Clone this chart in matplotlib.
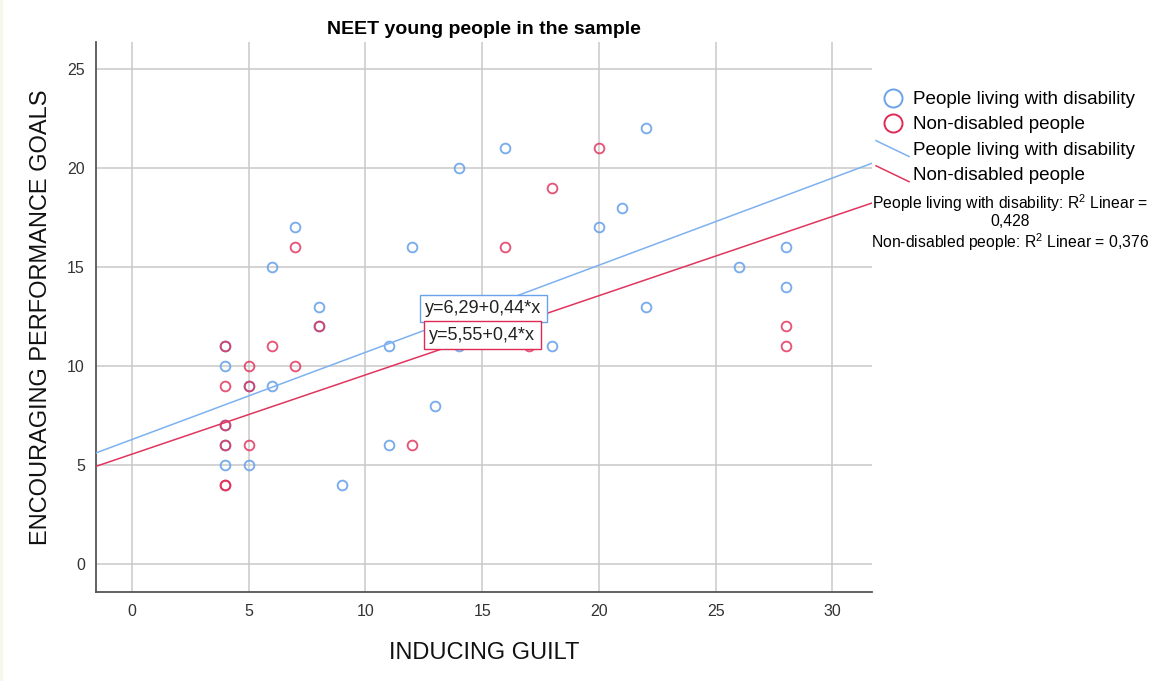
import numpy as np
import matplotlib
matplotlib.use("Agg")
import matplotlib.pyplot as plt
from matplotlib.lines import Line2D
from matplotlib.legend_handler import HandlerBase
from matplotlib.patches import Rectangle

plt.rcParams["font.family"] = ["Liberation Sans", "DejaVu Sans"]
plt.rcParams["mathtext.fontset"] = "custom"
plt.rcParams["mathtext.rm"] = "Liberation Sans"
plt.rcParams["mathtext.it"] = "Liberation Sans:italic"

# Scores: inducing guilt (x) vs encouraging performance goals (y)
disab_x = [4, 4, 4, 4, 4, 5, 5, 6, 6, 7, 8, 8, 9, 11, 11, 12, 13, 14, 14, 16, 18, 20, 21, 22, 22, 26, 28, 28]
disab_y = [10, 11, 7, 6, 5, 9, 5, 9, 15, 17, 13, 12, 4, 11, 6, 16, 8, 20, 11, 21, 11, 17, 18, 22, 13, 15, 16, 14]

nondis_x = [4, 4, 4, 4, 4, 4, 5, 5, 5, 6, 7, 7, 8, 12, 16, 17, 18, 20, 28, 28]
nondis_y = [11, 9, 7, 6, 4, 4, 10, 9, 6, 11, 10, 16, 12, 6, 16, 11, 19, 21, 12, 11]

# Linear fit coefficients (intercept, slope) and R squared
disab_fit = [6.29, 0.44]
nondis_fit = [5.55, 0.40]
r2_values = ["0,428", "0,376"]

group_labels = ["People living with disability", "Non-disabled people"]
x_ticks = [0, 5, 10, 15, 20, 25, 30]
y_ticks = [0, 5, 10, 15, 20, 25]

BLUE = "#6aa3eb"
RED = "#e02a55"
BLUE_LINE = "#7db1f0"
RED_LINE = "#e0355c"

W, H = 1163, 681
fig = plt.figure(figsize=(W / 100, H / 100), dpi=100)
fig.patch.set_facecolor("white")
fig.add_artist(Rectangle((0, 0), 3 / W, 1, transform=fig.transFigure,
                         facecolor="#f6f6ea", edgecolor="none"))

ax = fig.add_axes([96 / W, 1 - 592 / H, (872 - 96) / W, (592 - 42) / H])
ax.set_xlim(-1.54, 31.7)
ax.set_ylim(-1.41, 26.36)

ax.set_xticks(x_ticks)
ax.set_yticks(y_ticks)
ax.tick_params(length=0, labelsize=11.5, labelcolor="#333333")
ax.tick_params(axis="y", pad=8)
ax.tick_params(axis="x", pad=9)
ax.grid(True, color="#c9c9c9", lw=1.1)
ax.set_axisbelow(True)
for s in ["top", "right"]:
    ax.spines[s].set_visible(False)
for s in ["left", "bottom"]:
    ax.spines[s].set_color("#555555")
    ax.spines[s].set_linewidth(1.3)

ms = 7.0
mew = 1.35
ax.plot(disab_x, disab_y, "o", ls="none", mfc="none", mec=BLUE, ms=ms, mew=mew, alpha=0.9, zorder=3)
ax.plot(nondis_x, nondis_y, "o", ls="none", mfc="none", mec=RED, ms=ms, mew=mew, alpha=0.8, zorder=4)

xs = np.array(ax.get_xlim())
ax.plot(xs, disab_fit[0] + disab_fit[1] * xs, color=BLUE_LINE, lw=1.1, zorder=5)
ax.plot(xs, nondis_fit[0] + nondis_fit[1] * xs, color=RED_LINE, lw=1.1, zorder=5)


def fmt(v, nd):
    s = f"{v:.{nd}f}".rstrip("0").rstrip(".")
    return s.replace(".", ",")


eq_blue = f"y={fmt(disab_fit[0], 2)}+{fmt(disab_fit[1], 2)}*x"
eq_red = f"y={fmt(nondis_fit[0], 2)}+{fmt(nondis_fit[1], 2)}*x"
ax.text(15.04, 12.9, eq_blue, ha="center", va="center", fontsize=13, color="#222222", zorder=6,
        bbox=dict(boxstyle="square,pad=0.3", fc="white", ec=BLUE, lw=1.0))
ax.text(15.0, 11.55, eq_red, ha="center", va="center", fontsize=13, color="#222222", zorder=7,
        bbox=dict(boxstyle="square,pad=0.3", fc="white", ec=RED, lw=1.0))

ax.set_title("NEET young people in the sample", fontsize=14, fontweight="bold", pad=6)
ax.set_xlabel("INDUCING GUILT", fontsize=17, labelpad=16, color="#111111")
ax.set_ylabel("ENCOURAGING PERFORMANCE GOALS", fontsize=17, labelpad=11, color="#111111")


class DiagonalHandler(HandlerBase):
    def create_artists(self, legend, orig_handle, xdescent, ydescent, width, height, fontsize, trans):
        ln = Line2D([-xdescent, -xdescent + width],
                    [-ydescent + height * 1.05, -ydescent - height * 0.15],
                    color=orig_handle.get_color(), lw=orig_handle.get_linewidth(), transform=trans)
        return [ln]


h_pts = [Line2D([], [], marker="o", ls="none", mfc="none", mec=c, ms=13, mew=1.4) for c in (BLUE, RED)]
h_lines = [Line2D([], [], color=c, lw=1.1) for c in (BLUE_LINE, RED_LINE)]
fig.legend(h_pts + h_lines, group_labels + group_labels,
           handler_map={h_lines[0]: DiagonalHandler(), h_lines[1]: DiagonalHandler()},
           loc="upper left", bbox_to_anchor=(876 / W, 1 - 91 / H), bbox_transform=fig.transFigure,
           frameon=False, fontsize=13.6, handlelength=1.75, handletextpad=0.22,
           labelspacing=0.42, borderpad=0, borderaxespad=0, numpoints=1)

cx = 1010 / W
fs_r2 = 11.3
fig.text(cx, 1 - 203 / H, f"{group_labels[0]}: R$^{{2}}$ Linear =", ha="center", va="center", fontsize=fs_r2)
fig.text(cx, 1 - 221 / H, r2_values[0], ha="center", va="center", fontsize=fs_r2)
fig.text(cx, 1 - 242 / H, f"{group_labels[1]}: R$^{{2}}$ Linear = {r2_values[1]}", ha="center", va="center", fontsize=fs_r2)

fig.savefig("out.png", dpi=100)
